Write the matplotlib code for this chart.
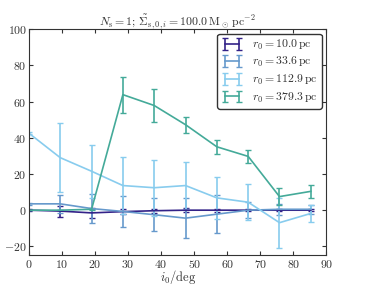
import matplotlib
matplotlib.use("Agg")
import matplotlib.pyplot as plt
import numpy as np

plt.rcParams["font.family"] = "serif"
plt.rcParams["font.serif"] = ["cmr10"]
plt.rcParams["mathtext.fontset"] = "cm"
plt.rcParams["axes.formatter.use_mathtext"] = True

# inclination angles (deg)
incl = [0, 9.47, 18.95, 28.42, 37.89, 47.37, 56.84, 66.32, 75.79, 85.26]

r0_labels = ["10.0", "33.6", "112.9", "379.3"]
colors = ["#332288", "#6699CC", "#88CCEE", "#44AA99"]

vals_10 = [0, -0.5, -1.5, -0.8, -0.3, 0, 0, 0, 0, 0]
err_10 = [0.5, 3, 2.8, 1.5, 1.2, 1, 0.8, 0.6, 0.6, 0.6]

vals_34 = [3.5, 3.5, 0.9, -0.7, -2.5, -4.4, -2.2, 0, 0.5, 0.5]
err_34 = [0.5, 5, 7.8, 8.5, 9, 11, 10.5, 4.5, 3, 2.5]

vals_113 = [42.5, 29, 21.5, 13.6, 12.4, 13.6, 6.8, 4.4, -6.9, -1.8]
err_113 = [0.5, 19, 14.5, 15.5, 15.4, 12.8, 11.4, 9.8, 13.8, 4.5]

vals_379 = [0, 0, 0.5, 63.8, 57.8, 47.2, 35, 29.7, 7.5, 10.4]
err_379 = [0, 0, 0.3, 10, 9.3, 4.5, 3.9, 3.6, 4.6, 3.4]

series = [(vals_10, err_10), (vals_34, err_34), (vals_113, err_113), (vals_379, err_379)]

fig = plt.figure(figsize=(3.66, 2.88), dpi=100)
ax = fig.add_axes([0.079, 0.113, 0.813, 0.786])

for (v, e), lab, c in zip(series, r0_labels, colors):
    ax.errorbar(incl, v, yerr=e, color=c, lw=1.2, elinewidth=1.2, capsize=2,
                capthick=1.0, label=r"$r_0 = %s\,\mathrm{pc}$" % lab)

ax.set_xlim(0, 90)
ax.set_ylim(-25, 100)
ax.set_xticks(np.arange(0, 91, 10))
ax.set_yticks(np.arange(-20, 101, 20))
ax.tick_params(direction="in", top=True, right=True, labelsize=8.5, length=3,
               pad=1.5, colors="#333333", labelcolor="#333333")
for s in ax.spines.values():
    s.set_color("#333333")

ax.set_xlabel(r"$i_0/\mathrm{deg}$", fontsize=9, color="#333333", va="center")
ax.xaxis.set_label_coords(0.5, -0.095)
ax.set_title(r"$N_\mathrm{s} = 1$; $\tilde{\Sigma}_{\mathrm{s,0,}i} = 100.0\,\mathrm{M}_\odot\,\mathrm{pc}^{-2}$",
             fontsize=8.5, pad=3, color="#333333")

leg = ax.legend(loc="upper right", fontsize=8.5, numpoints=2, fancybox=True,
                handlelength=1.8, borderaxespad=0.4, labelspacing=0.3,
                borderpad=0.35)
leg.get_frame().set_edgecolor("#333333")
leg.get_frame().set_alpha(1)
for t in leg.get_texts():
    t.set_color("#333333")

fig.savefig("out.png", dpi=100)
